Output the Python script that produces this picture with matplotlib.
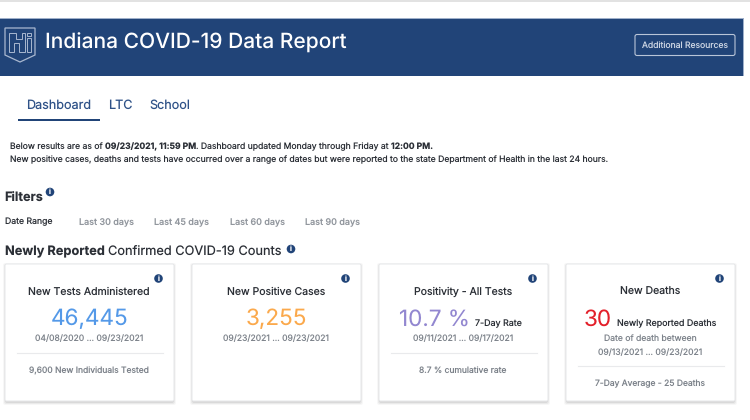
"""Indiana COVID-19 dashboard header and count cards."""

import matplotlib

matplotlib.use("Agg")
import matplotlib.pyplot as plt
from matplotlib.patches import Circle, FancyBboxPatch, Polygon, Rectangle

plt.rcParams["font.family"] = ["Inter", "DejaVu Sans"]
plt.rcParams["text.hinting"] = "no_hinting"
plt.rcParams["text.hinting_factor"] = 1

# --- data ----------------------------------------------------------------------------------------

report_title = "Indiana COVID-19 Data Report"
nav_tabs = ["Dashboard", "LTC", "School"]
date_filters = ["Last 30 days", "Last 45 days", "Last 60 days", "Last 90 days"]

card_titles = ["New Tests Administered", "New Positive Cases", "Positivity - All Tests", "New Deaths"]
card_values = ["46,445", "3,255", "10.7 %", "30"]
card_value_notes = ["", "", "7-Day Rate", "Newly Reported Deaths"]
card_dates = [
    ["04/08/2020 ... 09/23/2021"],
    ["09/23/2021 ... 09/23/2021"],
    ["09/11/2021 ... 09/17/2021"],
    ["Date of death between", "09/13/2021 ... 09/23/2021"],
]
card_footers = ["9,600 New Individuals Tested", "", "8.7 % cumulative rate", "7-Day Average - 25 Deaths"]

# --- style ---------------------------------------------------------------------------------------

navy = "#214478"
dark = "#2b2f36"
grey = "#7d838b"
value_colors = ["#5499e8", "#fba94c", "#9287d0", "#e3202a"]
card_lefts = [5, 192, 379, 566]
card_top = 264
card_width = 169
card_height = 137

# --- helpers -------------------------------------------------------------------------------------

fig = plt.figure(figsize=(7.5, 4.2), dpi=100)
ax = fig.add_axes([0, 0, 1, 1])
ax.set_xlim(0, 750)
ax.set_ylim(420, 0)
ax.axis("off")


def px(size):
    return size * 0.72


def label(x, y, s, size=9, color=dark, weight="normal", ha="left", zorder=5):
    return ax.text(x, y, s, fontsize=px(size), color=color, fontweight=weight, ha=ha, va="center", zorder=zorder)


def runs(x, y, parts, size=9, color=dark):
    # left to right, each piece starts where the last one ended
    renderer = fig.canvas.get_renderer()
    for s, weight in parts:
        t = label(x, y, s, size=size, color=color, weight=weight)
        x = t.get_window_extent(renderer).x1
    return x


def info(x, y, r=4.3):
    ax.add_patch(Circle((x, y), r, fc=navy, ec="none", zorder=6))
    label(x, y + 0.5, "i", size=r * 1.6, color="white", weight="bold", ha="center", zorder=7)


# --- page furniture ------------------------------------------------------------------------------

ax.add_patch(Rectangle((0, 0), 750, 2, fc="#e2e2e2", ec="none"))
ax.add_patch(Rectangle((0, 18), 743, 58, fc=navy, ec="none"))
ax.add_patch(Rectangle((0, 18), 743, 1, fc="#9fb0ca", ec="none"))
ax.add_patch(Rectangle((743, 18), 1, 58, fc="#9fb0ca", ec="none"))

# logo: shield with an outlined H and i
logo = "#a9b8d0"
shield = [(5, 28), (35, 28), (35, 55), (20, 62), (5, 55)]
ax.add_patch(Polygon(shield, closed=True, fc="none", ec=logo, lw=0.9, zorder=4))
letter_h = [(9, 33), (16, 33), (16, 39), (22, 39), (22, 33), (25, 33), (25, 52), (19, 52),
            (19, 43), (14, 43), (14, 52), (9, 52)]
letter_i = [(27, 38), (31, 38), (31, 52), (27, 52)]
ax.add_patch(Polygon(letter_h, closed=True, fc="none", ec=logo, lw=0.7, zorder=4))
ax.add_patch(Polygon(letter_i, closed=True, fc="none", ec=logo, lw=0.7, zorder=4))
ax.add_patch(Rectangle((27, 33), 4, 3, fc="none", ec=logo, lw=0.7, zorder=4))

label(45, 43, report_title, size=21, color="white", weight="medium")

button = FancyBboxPatch((635, 34.5), 100, 21, boxstyle="round,pad=0,rounding_size=2", fc="none", ec="#b9c5d8", lw=0.8, zorder=4)
ax.add_patch(button)
label(685, 46, "Additional Resources", size=8.6, color="#ccd5e3", ha="center")

# tabs
for x, tab in zip([26, 108.5, 149], nav_tabs):
    label(x, 105.5, tab, size=12.6, color="#2f5288")
ax.add_patch(Rectangle((18, 118.5), 82, 2, fc=navy, ec="none"))

# --- intro text ----------------------------------------------------------------------------------

runs(9.5, 146.5, [
    ("Below results are as of ", "normal"),
    ("09/23/2021, 11:59 PM", "bold"),
    (". Dashboard updated Monday through Friday at ", "normal"),
    ("12:00 PM.", "bold"),
], size=8.6)
label(9.5, 160, "New positive cases, deaths and tests have occurred over a range of dates "
      "but were reported to the state Department of Health in the last 24 hours.", size=8.6)

# --- filters -------------------------------------------------------------------------------------

label(4.5, 197.5, "Filters", size=12.7, weight="bold")
info(50, 192)
label(5, 221.5, "Date Range", size=8.7)
for x, s in zip([79, 154, 229.5, 305], date_filters):
    label(x, 222.5, s, size=9, color="#92979e", weight="medium")

end = runs(5, 251.5, [("Newly Reported ", "bold"), ("Confirmed COVID-19 Counts", "normal")], size=12.8)
info(291, 249)

# --- cards ---------------------------------------------------------------------------------------

for i, left in enumerate(card_lefts):
    center = left + card_width / 2
    for grow, alpha in [(3, 0.03), (2, 0.05), (1, 0.07)]:
        ax.add_patch(FancyBboxPatch((left - grow + 1, card_top - grow + 2), card_width + 2 * grow - 2, card_height + 2 * grow - 1,
                                    boxstyle="round,pad=0,rounding_size=2", fc="black", ec="none", alpha=alpha, zorder=1))
    ax.add_patch(FancyBboxPatch((left, card_top), card_width, card_height, boxstyle="round,pad=0,rounding_size=1.5",
                                fc="white", ec="#e6e7e9", lw=0.7, zorder=2))
    info(left + 153.5, 278.5)
    label(center - 0.5, 291.5, card_titles[i], size=10.5, ha="center")

    # big number, with its note next to it when there is one
    if card_value_notes[i]:
        note_x = {2: left + 96, 3: left + 51}[i]
        label(note_x - 5, 319.5, card_values[i], size=22.5, color=value_colors[i], ha="right")
        label(note_x, 323.5, card_value_notes[i], size=8.9)
    else:
        label(center, 319.5, card_values[i], size=22.5, color=value_colors[i], ha="center")

    y = 339
    for line in card_dates[i]:
        label(center - 0.5, y, line, size=8.6, color=grey, ha="center")
        y += 13.2
    if card_footers[i]:
        rule_y = y + 1
        ax.plot([left + 11.5, left + 158], [rule_y, rule_y], color="#e9eaec", lw=0.8, zorder=3)
        label(center - 0.5, rule_y + 17.5, card_footers[i], size=8.5, color=grey, ha="center")

fig.savefig("out.png", dpi=100)
